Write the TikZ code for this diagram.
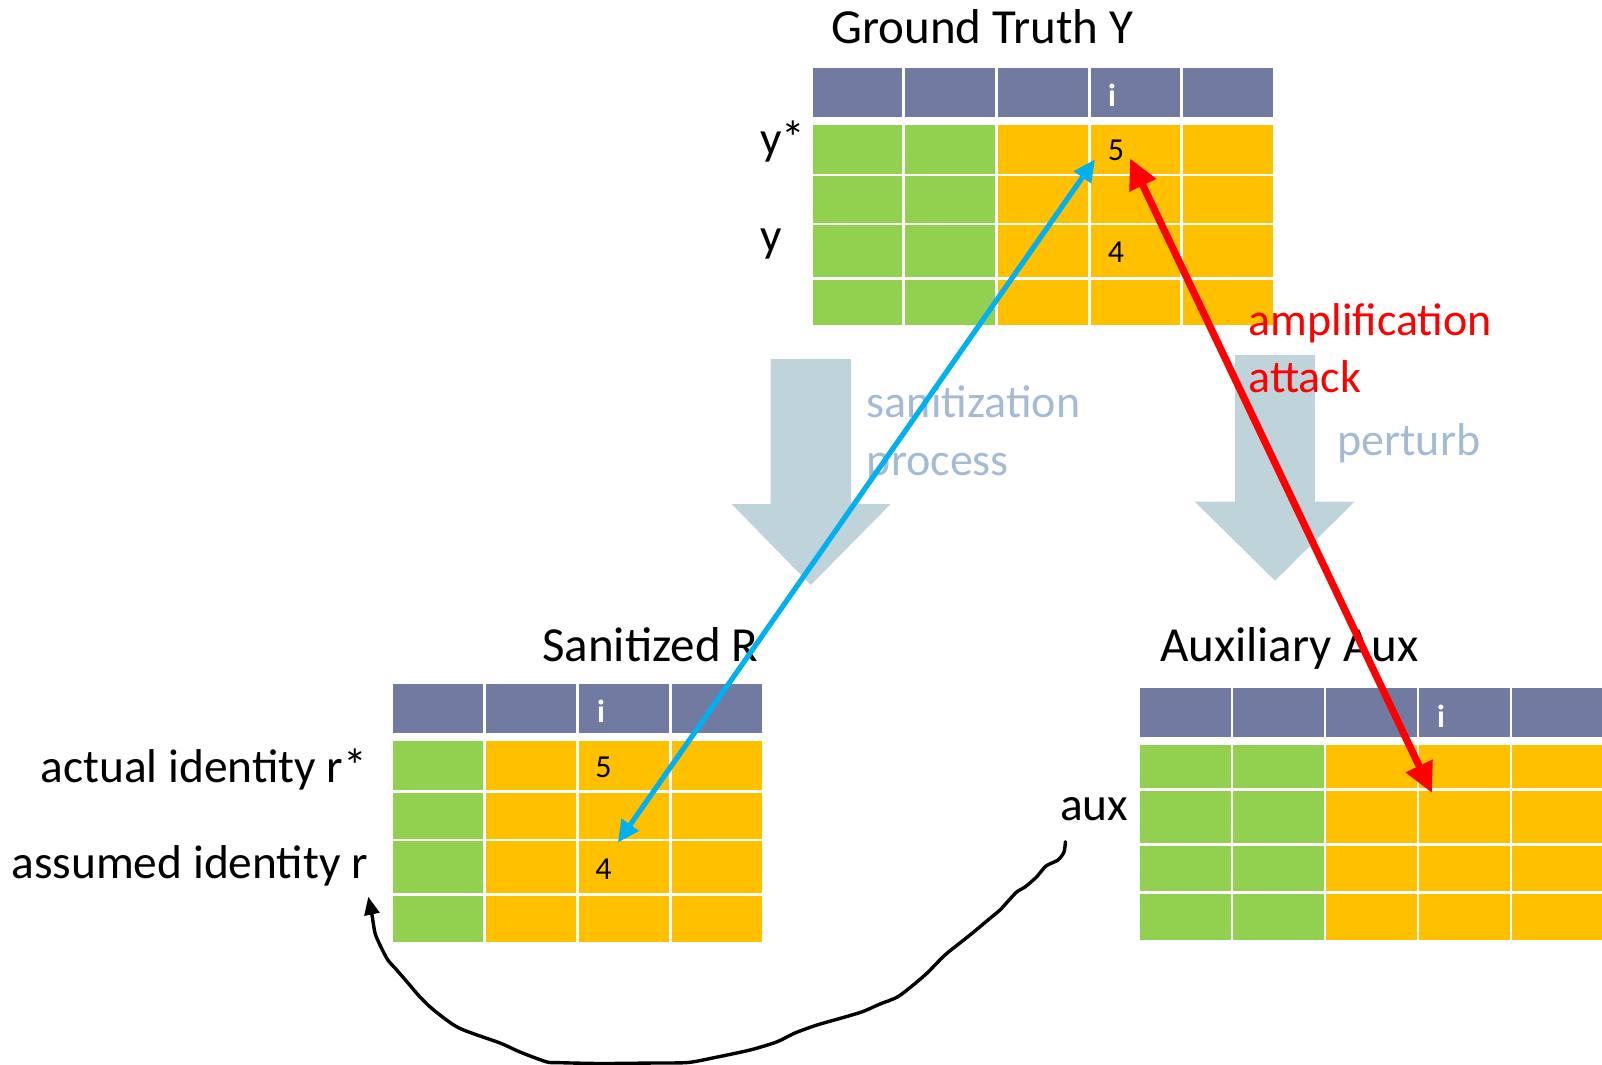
\documentclass[tikz,border=0pt]{standalone}
\usepackage{fontspec}
\setmainfont{Carlito}
\usetikzlibrary{arrows.meta}

\definecolor{hdr}{HTML}{717BA1}
\definecolor{grn}{HTML}{92D050}
\definecolor{org}{HTML}{FFC000}
\definecolor{flow}{HTML}{BFD3DB}
\definecolor{flowtext}{HTML}{A5BBD3}
\definecolor{linkblue}{HTML}{00B0F0}
\definecolor{attackred}{HTML}{FF0000}

\tikzset{
  cell/.style={inner sep=0pt, outer sep=0pt, draw=none, anchor=north west},
  title/.style={inner sep=0pt, font=\fontsize{24.5}{29}\selectfont},
  rowlabel/.style={inner sep=0pt, font=\fontsize{23.7}{28}\selectfont},
  num/.style={inner sep=0pt, font=\fontsize{16}{19}\selectfont},
  colidx/.style={inner sep=0pt, text=white, font=\fontsize{16}{19}\selectfont\bfseries},
  flowlabel/.style={inner sep=0pt, text=flowtext, font=\fontsize{23}{28}\selectfont},
  attacklabel/.style={inner sep=0pt, text=attackred, font=\fontsize{23}{28}\selectfont},
  flowarrow/.style={fill=flow, draw=none},
  linkarrow/.style={draw=linkblue, line width=2.6pt,
    {Triangle[length=11pt,width=10pt]}-{Triangle[length=11pt,width=10pt]}},
  attackarrow/.style={draw=attackred, line width=3.6pt,
    {Triangle[length=15pt,width=14pt]}-{Triangle[length=15pt,width=14pt]}},
  linkcurve/.style={draw=black, line width=1.7pt, line cap=round, line join=round,
    -{Triangle[length=9pt,width=7.5pt]}},
}

% one table cell: name, colour, left, top, right, bottom (pixel units)
\newcommand\tcell[6]{%
  \node[cell, fill=#2, minimum width={0.5pt*(#5-#3)}, minimum height={0.5pt*(#6-#4)}] (#1) at (#3,#4) {};}

\begin{document}
\begin{tikzpicture}[x=0.5pt, y=-0.5pt]
\useasboundingbox (0,0) rectangle (1602,1065);

% ---------- Ground truth table ----------
\foreach \k/\colr in {0/grn,1/grn,2/org,3/org,4/org}{
  \pgfmathsetmacro\xl{812.5+92.7*\k}
  \pgfmathsetmacro\xr{\xl+89.6}
  \tcell{gt-h\k}{hdr}{\xl}{67.7}{\xr}{116.7}
  \foreach \r/\yt/\yb in {1/125/174, 2/176.5/222.5, 3/225/277, 4/279.5/325}{
    \tcell{gt-\r-\k}{\colr}{\xl}{\yt}{\xr}{\yb}
  }
}
\node[title, anchor=base west] (gttitle) at (831,43.3) {Ground Truth Y};
\node[rowlabel, anchor=base west] (ystar) at (759.6,154.7) {y*};
\node[rowlabel, anchor=base west] (yrow) at (759.6,251.5) {y};
\node[colidx] (gti) at (1112,95) {i};
\node[num] (gtfive) at (1116,150.5) {5};
\node[num] (gtfour) at (1116,252.5) {4};

% ---------- Sanitized table ----------
\foreach \k/\colr in {0/grn,1/org,2/org,3/org}{
  \pgfmathsetmacro\xl{393.4+92.8*\k}
  \pgfmathsetmacro\xr{\xl+89.9}
  \tcell{sr-h\k}{hdr}{\xl}{684.3}{\xr}{733.3}
  \foreach \r/\yt/\yb in {1/741.3/790, 2/792.7/838.7, 3/841.3/893.3, 4/896/941.7}{
    \tcell{sr-\r-\k}{\colr}{\xl}{\yt}{\xr}{\yb}
  }
}
\node[title, anchor=base west] (srtitle) at (541.8,661) {Sanitized R};
\node[rowlabel, anchor=base east] (actual) at (367.3,782.7) {actual identity r*};
\node[rowlabel, anchor=base east] (assumed) at (368.4,878) {assumed identity r};
\node[colidx] (sri) at (601,711.7) {i};
\node[num] (srfive) at (603.6,767) {5};
\node[num] (srfour) at (603.6,869) {4};

% ---------- Auxiliary table ----------
\foreach \k/\colr in {0/grn,1/grn,2/org,3/org,4/org}{
  \pgfmathsetmacro\xl{1140+93.1*\k}
  \pgfmathsetmacro\xr{min(\xl+90.8,1602)}
  \tcell{ax-h\k}{hdr}{\xl}{688}{\xr}{736.7}
  \foreach \r/\yt/\yb in {1/745/788.3, 2/791/843, 3/845.7/891, 4/894/940}{
    \tcell{ax-\r-\k}{\colr}{\xl}{\yt}{\xr}{\yb}
  }
}
\node[title, anchor=base west] (axtitle) at (1159.6,661.7) {Auxiliary Aux};
\node[rowlabel, anchor=base east] (auxlbl) at (1128.8,820) {aux};
\node[colidx] (axi) at (1441,716.7) {i};

% ---------- process arrows ----------
\fill[flowarrow] (770.6,359) -- (851,359) -- (851,504) -- (890.6,504)
  -- (810.8,585) -- (731.6,504) -- (770.6,504) -- cycle;
\fill[flowarrow] (1235,355) -- (1314.8,355) -- (1314.8,501.7) -- (1354.4,501.7)
  -- (1275,580.7) -- (1194.8,501.7) -- (1235,501.7) -- cycle;

\node[flowlabel, anchor=base west] (sanlbl) at (866.5,417.5) {sanitization};
\node[flowlabel, anchor=base west] (proclbl) at (866.5,475.5) {process};
\node[flowlabel, anchor=base west] (pertlbl) at (1337,455) {perturb};
\node[attacklabel, anchor=base west] (amplbl) at (1248.5,335) {amplification};
\node[attacklabel, anchor=base west] (attlbl) at (1248,392.3) {attack};

% ---------- link ends ----------
\coordinate (gtlinktip) at (1095,159.3);
\coordinate (srlinktip) at (617.7,842.7);
\coordinate (gtattacktip) at (1130,158.3);
\coordinate (axattacktip) at (1432,793);
\coordinate (auxcurve) at (1065.4,841.7);
\coordinate (assumedtip) at (368.3,896.7);

% ---------- links ----------
\draw[linkarrow] (gtlinktip) -- (srlinktip);
\draw[attackarrow] (gtattacktip) -- (axattacktip);

\draw[linkcurve] plot[smooth, tension=0.45] coordinates {
  (auxcurve) (1064,852) (1058,860) (1046,866) (1036.5,877) (1025,887)
  (1017,891.7) (1010,899) (1000,910) (991,917.5) (970,935) (945,955)
  (925,975) (899,996) (880,1004) (863,1011.5) (845,1017) (817,1025)
  (795,1033) (776.5,1042) (750,1050) (715,1057.5) (688,1062.5) (654,1063)
  (600,1063.5) (557,1062.6) (546,1061.7) (520,1052) (500,1043) (459,1028)
  (433.7,1010) (420,997) (408,983) (395,968) (387.8,960) (380,945)
  (375,933) (372,915) (assumedtip)};

\end{tikzpicture}
\end{document}
